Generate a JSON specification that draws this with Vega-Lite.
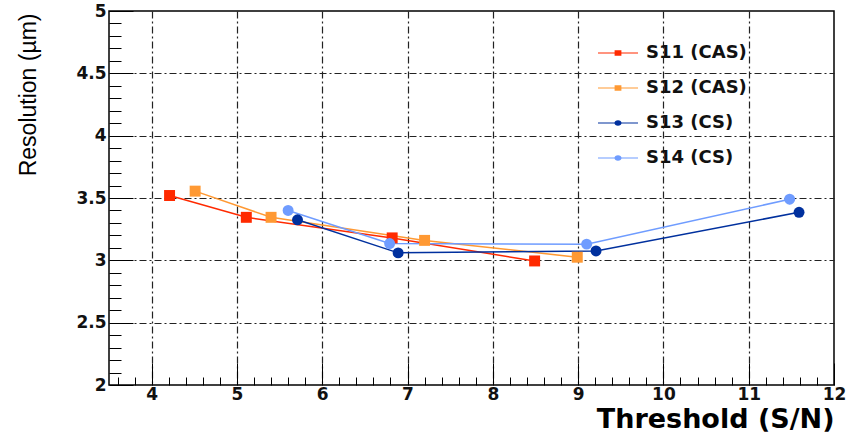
{
  "$schema": "https://vega.github.io/schema/vega-lite/v6.json",
  "width": 725,
  "height": 374,
  "autosize": {"type": "none"},
  "padding": {"left": 109, "top": 11, "right": 20, "bottom": 48},
  "background": "white",
  "config": {"view": {"stroke": "#000", "strokeWidth": 1.5}},
  "data": {"values": [
    {"det": "S11 (CAS)", "thr": 4.21, "res": 3.52, "err": 0.015},
    {"det": "S11 (CAS)", "thr": 5.11, "res": 3.345, "err": 0.015},
    {"det": "S11 (CAS)", "thr": 6.82, "res": 3.18, "err": 0.015},
    {"det": "S11 (CAS)", "thr": 8.49, "res": 2.995, "err": 0.015},
    {"det": "S12 (CAS)", "thr": 4.51, "res": 3.555, "err": 0.015},
    {"det": "S12 (CAS)", "thr": 5.4, "res": 3.345, "err": 0.015},
    {"det": "S12 (CAS)", "thr": 7.2, "res": 3.16, "err": 0.015},
    {"det": "S12 (CAS)", "thr": 8.99, "res": 3.025, "err": 0.015},
    {"det": "S13 (CS)", "thr": 5.71, "res": 3.325, "err": 0.02},
    {"det": "S13 (CS)", "thr": 6.89, "res": 3.06, "err": 0.02},
    {"det": "S13 (CS)", "thr": 9.21, "res": 3.075, "err": 0.02},
    {"det": "S13 (CS)", "thr": 11.59, "res": 3.385, "err": 0.02},
    {"det": "S14 (CS)", "thr": 5.6, "res": 3.4, "err": 0.03},
    {"det": "S14 (CS)", "thr": 6.79, "res": 3.135, "err": 0.02},
    {"det": "S14 (CS)", "thr": 9.1, "res": 3.13, "err": 0.02},
    {"det": "S14 (CS)", "thr": 11.48, "res": 3.49, "err": 0.04}
  ]},
  "encoding": {
    "x": {
      "field": "thr", "type": "quantitative",
      "scale": {"domain": [3.5, 12], "nice": false, "zero": false},
      "axis": {
        "title": "Threshold (S/N)",
        "values": [3.6,3.8,4,4.2,4.4,4.6,4.8,5,5.2,5.4,5.6,5.8,6,6.2,6.4,6.6,6.8,7,7.2,7.4,7.6,7.8,8,8.2,8.4,8.6,8.8,9,9.2,9.4,9.6,9.8,10,10.2,10.4,10.6,10.8,11,11.2,11.4,11.6,11.8,12],
        "labelExpr": "abs(datum.value - round(datum.value)) < 0.01 ? format(datum.value, '~g') : ''",
        "tickSize": {"condition": {"test": "abs(datum.value - round(datum.value)) < 0.01", "value": -22}, "value": -8},
        "tickColor": "#000",
        "tickWidth": 1,
        "grid": true,
        "gridOpacity": {"condition": {"test": "abs(datum.value - round(datum.value)) < 0.01 && datum.value < 11.9", "value": 1}, "value": 0},
        "gridDash": [7, 3, 2, 3],
        "gridColor": "#222",
        "gridWidth": 1.2,
        "domain": false,
        "labelPadding": 23,
        "labelFont": "DejaVu Sans",
        "labelFontWeight": "bold",
        "labelFontSize": 17,
        "labelColor": "#111",
        "labelOverlap": false,
        "labelFlush": false,
        "labelBound": false,
        "titleFont": "DejaVu Sans",
        "titleFontWeight": "bold",
        "titleFontSize": 27,
        "titleColor": "#000",
        "titleAnchor": "end",
        "titleAlign": "right",
        "titleBaseline": "alphabetic",
        "titleX": 725,
        "titleY": 42
      }
    },
    "y": {
      "field": "res", "type": "quantitative",
      "scale": {"domain": [2, 5], "nice": false, "zero": false},
      "axis": {
        "title": "Resolution (µm)",
        "values": [2,2.1,2.2,2.3,2.4,2.5,2.6,2.7,2.8,2.9,3,3.1,3.2,3.3,3.4,3.5,3.6,3.7,3.8,3.9,4,4.1,4.2,4.3,4.4,4.5,4.6,4.7,4.8,4.9,5],
        "labelExpr": "abs(datum.value*2 - round(datum.value*2)) < 0.01 ? format(datum.value, '~g') : ''",
        "tickSize": {"condition": {"test": "abs(datum.value*2 - round(datum.value*2)) < 0.01", "value": -24}, "value": -12},
        "tickColor": "#000",
        "tickWidth": 1,
        "grid": true,
        "gridOpacity": {"condition": {"test": "abs(datum.value*2 - round(datum.value*2)) < 0.01 && datum.value > 2.01 && datum.value < 4.99", "value": 1}, "value": 0},
        "gridDash": [7, 3, 2, 3],
        "gridColor": "#222",
        "gridWidth": 1.2,
        "domain": false,
        "labelPadding": 27,
        "labelFont": "DejaVu Sans",
        "labelFontWeight": "bold",
        "labelFontSize": 17,
        "labelColor": "#111",
        "labelOverlap": false,
        "labelFlush": false,
        "labelBound": false,
        "titleFont": "Liberation Sans",
        "titleFontWeight": "normal",
        "titleFontSize": 23,
        "titleColor": "#000",
        "titleAngle": -90,
        "titleAlign": "right",
        "titleBaseline": "middle",
        "titleX": -81,
        "titleY": 2
      }
    },
    "color": {
      "field": "det", "type": "nominal",
      "scale": {"domain": ["S11 (CAS)", "S12 (CAS)", "S13 (CS)", "S14 (CS)"], "range": ["#ff2a00", "#ff9933", "#00309e", "#6f9cff"]},
      "legend": {
        "title": null,
        "orient": "none",
        "legendX": 489,
        "legendY": 32,
        "symbolSize": 1600,
        "symbolOpacity": 1,
        "symbolStrokeWidth": 0,
        "clipHeight": 20,
        "rowPadding": 15,
        "labelFont": "DejaVu Sans",
        "labelFontWeight": "bold",
        "labelFontSize": 18,
        "labelColor": "#111",
        "labelOffset": 8
      }
    }
  },
  "layer": [
    {"mark": {"type": "line", "strokeWidth": 1.5}},
    {"mark": {"type": "errorbar", "thickness": 1.5}, "encoding": {"yError": {"field": "err"}}},
    {
      "transform": [{"filter": {"field": "det", "oneOf": ["S11 (CAS)", "S12 (CAS)"]}}],
      "mark": {"type": "point", "shape": "square", "filled": true, "opacity": 1, "size": 120}
    },
    {
      "transform": [{"filter": {"field": "det", "oneOf": ["S13 (CS)", "S14 (CS)"]}}],
      "mark": {"type": "point", "shape": "circle", "filled": true, "opacity": 1, "size": 120}
    },
    {
      "mark": {"type": "point", "filled": true, "opacity": 0},
      "encoding": {
        "shape": {
          "field": "det", "type": "nominal",
          "scale": {
            "domain": ["S11 (CAS)", "S12 (CAS)", "S13 (CS)", "S14 (CS)"],
            "range": [
              "M-1,-0.02H1V0.02H-1ZM-0.17,-0.14H0.17V0.14H-0.17Z",
              "M-1,-0.02H1V0.02H-1ZM-0.17,-0.14H0.17V0.14H-0.17Z",
              "M-1,-0.02H1V0.02H-1ZM0.18,0A0.18,0.14,0,1,1,-0.18,0A0.18,0.14,0,1,1,0.18,0Z",
              "M-1,-0.02H1V0.02H-1ZM0.18,0A0.18,0.14,0,1,1,-0.18,0A0.18,0.14,0,1,1,0.18,0Z"
            ]
          },
          "legend": {
            "title": null,
            "orient": "none",
            "legendX": 489,
            "legendY": 32,
            "symbolSize": 1600,
            "symbolOpacity": 1,
            "symbolStrokeWidth": 0,
            "clipHeight": 20,
            "rowPadding": 15,
            "labelFont": "DejaVu Sans",
            "labelFontWeight": "bold",
            "labelFontSize": 18,
            "labelColor": "#111",
            "labelOffset": 8
          }
        }
      }
    }
  ]
}
